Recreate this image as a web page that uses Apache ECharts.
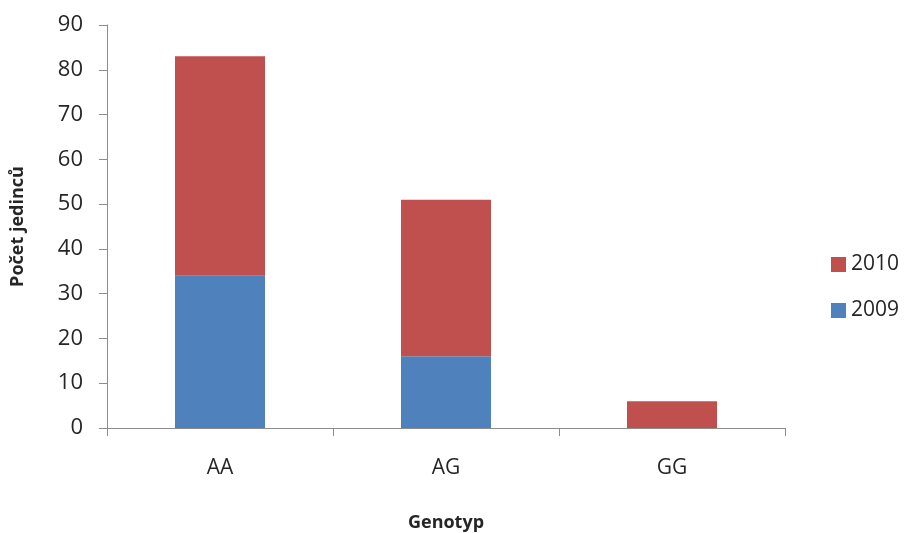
<!DOCTYPE html>
<html>
<head>
<meta charset="utf-8">
<script src="https://cdn.jsdelivr.net/npm/echarts@6/dist/echarts.min.js"></script>
<style>
  html, body { margin: 0; padding: 0; background: #fff; }
  #chart { width: 907px; height: 533px; }
</style>
</head>
<body>
<div id="chart"></div>
<script>
// Genotype counts per year (stacked)
const genotypes = ['AA', 'AG', 'GG'];
const counts2009 = [34, 16, 0];
const counts2010 = [49, 35, 6];
const yTicks = [0, 10, 20, 30, 40, 50, 60, 70, 80, 90];

const textColor = '#262626';
const axisColor = '#8c8c8c';
const font = 'Open Sans';

const chart = echarts.init(document.getElementById('chart'));
chart.setOption({
  animation: false,
  textStyle: { fontFamily: font, color: textColor },
  grid: { left: 107, right: 122, top: 25, bottom: 105, containLabel: false, outerBoundsMode: 'none' },
  legend: {
    orient: 'vertical',
    left: 826,
    top: 249,
    itemWidth: 15,
    itemHeight: 15,
    itemGap: 25,
    icon: 'rect',
    data: ['2010', '2009'],
    textStyle: { fontFamily: font, fontSize: 21, color: textColor }
  },
  xAxis: {
    type: 'category',
    data: genotypes,
    name: 'Genotyp',
    nameLocation: 'middle',
    nameGap: 86,
    nameTextStyle: { fontFamily: font, fontWeight: 'bold', fontSize: 18, color: textColor },
    axisLine: { lineStyle: { color: axisColor, width: 1 } },
    axisTick: { show: true, length: 8, alignWithLabel: false, lineStyle: { color: axisColor } },
    axisLabel: { fontFamily: font, fontSize: 21, color: textColor, margin: 30 },
    splitLine: { show: false }
  },
  yAxis: {
    type: 'value',
    min: yTicks[0],
    max: yTicks[yTicks.length - 1],
    interval: 10,
    name: 'Počet jedinců',
    nameLocation: 'middle',
    nameGap: 80,
    nameTextStyle: { fontFamily: font, fontWeight: 'bold', fontSize: 18, color: textColor },
    axisLine: { show: true, lineStyle: { color: axisColor, width: 1 } },
    axisTick: { show: true, length: 8, lineStyle: { color: axisColor } },
    axisLabel: { fontFamily: font, fontSize: 22, color: textColor, margin: 24 },
    splitLine: { show: false }
  },
  series: [
    {
      name: '2009',
      type: 'bar',
      stack: 'total',
      data: counts2009,
      barWidth: 90,
      itemStyle: { color: '#4F81BD' }
    },
    {
      name: '2010',
      type: 'bar',
      stack: 'total',
      data: counts2010,
      barWidth: 90,
      itemStyle: { color: '#C0504D' }
    }
  ]
});
</script>
</body>
</html>
